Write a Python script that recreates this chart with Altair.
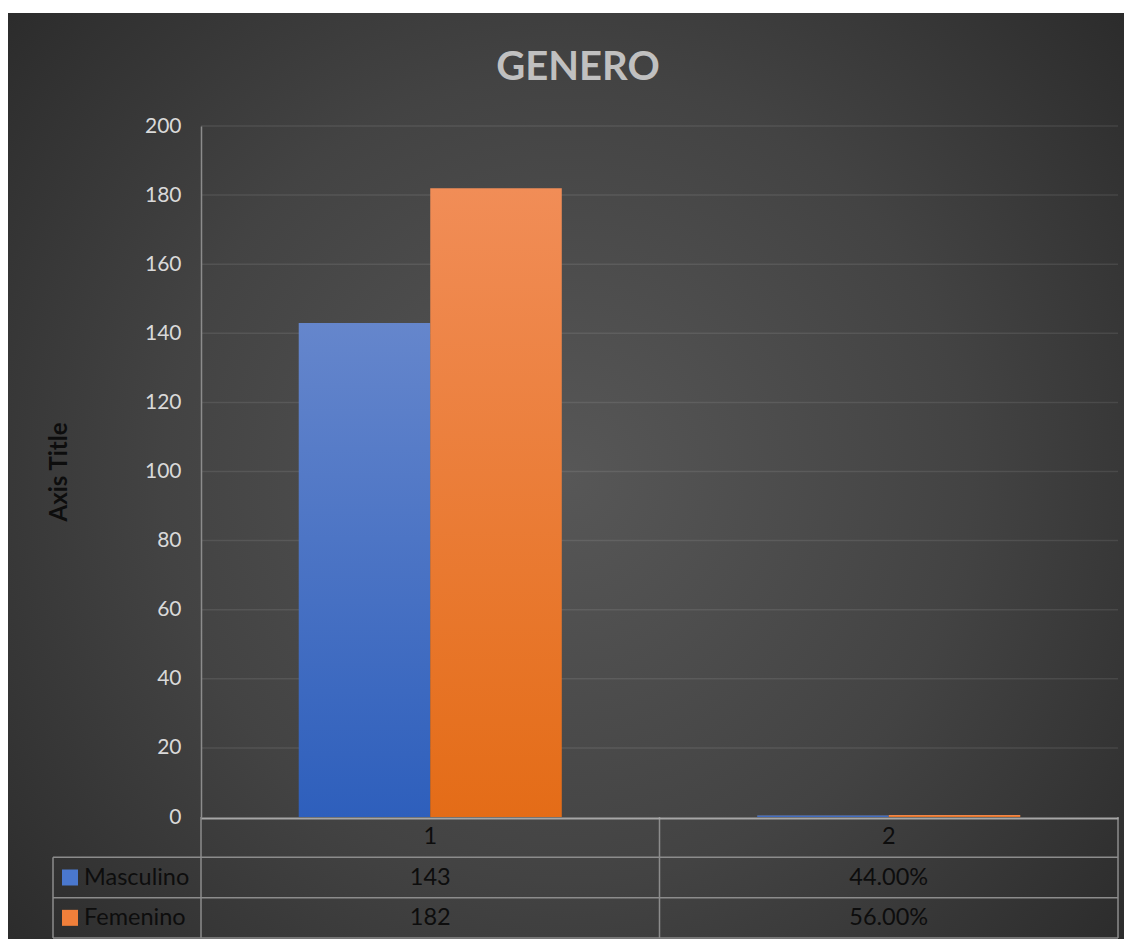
import altair as alt
import pandas as pd

# ---- data ----
chart_title = "GENERO"
categories = ["1", "2"]
series = ["Masculino", "Femenino"]
masculino = [143, 0.44]
femenino = [182, 0.56]
series_colors = ["#4a78cf", "#f07f3a"]
y_ticks = [0, 20, 40, 60, 80, 100, 120, 140, 160, 180, 200]
table_rows = ["header", "Masculino", "Femenino"]


def fmt(cat, v):
    return f"{v:.2%}" if cat == "2" else f"{v:g}"


records = []
for name, vals in zip(series, [masculino, femenino]):
    for cat, v in zip(categories, vals):
        records.append({"category": cat, "series": name, "value": v, "label": fmt(cat, v)})
df = pd.DataFrame(records)
legend_df = pd.DataFrame({"series": series})
ticks_df = pd.DataFrame({"tick": y_ticks[1:]})
one = pd.DataFrame({"k": [0]})
title_df = pd.DataFrame({"t": [chart_title]})

W, H = 917, 691
ROW_TOP, ROW_BOTTOM = 691, 812
FONT = "Lato"
TXT = "#0d0d0d"
LINE = "#8c8c8c"
TFS = 23.5

x_enc = alt.X(
    "category:N",
    scale=alt.Scale(domain=categories, paddingInner=0, paddingOuter=0),
    axis=alt.Axis(title=None, labelAngle=0, labelColor=TXT, labelFontSize=TFS, labelFont=FONT,
                  labelPadding=6, ticks=False, domain=True, domainColor="#a6a6a6", offset=1,
                  domainWidth=2, grid=False, zindex=1),
)

y_scale = alt.Scale(domain=[0, 200], nice=False, zero=True)

y_bar = alt.Y(
    "value:Q",
    scale=y_scale,
    axis=alt.Axis(values=y_ticks, grid=False, domain=True, domainColor=LINE, domainWidth=1.5,
                  ticks=False, zindex=1,
                  labelColor="#d9d9d9", labelFontSize=21, labelFont=FONT, labelPadding=20,
                  title="Axis Title", titleFont=FONT, titleFontSize=24, titleFontWeight="bold",
                  titleColor=TXT, titleX=-142, titleY=H / 2, titleAngle=270,
                  titleAlign="center", titleBaseline="middle"),
)

xoff = alt.XOffset("series:N", scale=alt.Scale(domain=series, paddingInner=0, paddingOuter=0.743))

bg = alt.Chart(one).mark_rect(
    fill=alt.RadialGradient(
        gradient="radial", x1=0.5, y1=0.5, r1=0, x2=0.5, y2=0.5, r2=0.72,
        stops=[alt.GradientStop(offset=0, color="#575757"),
               alt.GradientStop(offset=0.5, color="#434343"),
               alt.GradientStop(offset=1, color="#262626")],
    )
).encode(x=alt.value(-194), x2=alt.value(W + 8), y=alt.value(-113), y2=alt.value(ROW_BOTTOM + 3))

title = alt.Chart(title_df).mark_text(font=FONT, fontSize=40, fontWeight="bold", color="#c0c0c0",
                                      align="center", baseline="middle").encode(
    x=alt.value(377), y=alt.value(-58), text="t:N")

grid = alt.Chart(ticks_df).mark_rule(color="white", opacity=0.09, strokeWidth=1.5).encode(
    y=alt.Y("tick:Q", scale=y_scale, axis=None),
    x=alt.value(0), x2=alt.value(W),
)


def grad(top, bottom):
    return alt.LinearGradient(gradient="linear", x1=0, y1=0, x2=0, y2=1,
                              stops=[alt.GradientStop(offset=0, color=top),
                                     alt.GradientStop(offset=1, color=bottom)])


bars_m = alt.Chart(df).transform_filter(alt.datum.series == "Masculino").mark_bar(
    fill=grad("#6586cc", "#2e5fbc"), strokeWidth=0
).encode(x=x_enc, xOffset=xoff, y=y_bar)

bars_f = alt.Chart(df).transform_filter(alt.datum.series == "Femenino").mark_bar(
    fill=grad("#f18d57", "#e46c17"), strokeWidth=0
).encode(x=x_enc, xOffset=xoff, y=alt.Y("value:Q", scale=y_scale, axis=None))

row_scale = alt.Scale(domain=table_rows, range=[ROW_TOP, ROW_BOTTOM], paddingInner=0, paddingOuter=0)

cells = alt.Chart(df).mark_text(font=FONT, fontSize=TFS, color=TXT, baseline="middle").encode(
    x=alt.X("category:N"),
    y=alt.Y("series:N", scale=row_scale, axis=None),
    text="label:N",
)

legend_sq = alt.Chart(legend_df).mark_square(size=256, opacity=1, filled=True).encode(
    x=alt.value(-131),
    y=alt.Y("series:N", scale=row_scale, axis=None),
    color=alt.Color("series:N", scale=alt.Scale(domain=series, range=series_colors), legend=None),
)

legend_txt = alt.Chart(legend_df).mark_text(font=FONT, fontSize=TFS, color=TXT, align="left",
                                            baseline="middle").encode(
    x=alt.value(-117),
    y=alt.Y("series:N", scale=row_scale, axis=None),
    text="series:N",
)


def hline(y, x0, x1):
    return alt.Chart(one).mark_rule(color=LINE, strokeWidth=1.5).encode(
        x=alt.value(x0), x2=alt.value(x1), y=alt.value(y))


def vline(x, y0, y1):
    return alt.Chart(one).mark_rule(color=LINE, strokeWidth=1.5).encode(
        x=alt.value(x), y=alt.value(y0), y2=alt.value(y1))


row1 = ROW_TOP + (ROW_BOTTOM - ROW_TOP) / 3
row2 = ROW_TOP + 2 * (ROW_BOTTOM - ROW_TOP) / 3
lines = [
    hline(row1, -148, W), hline(row2, -148, W), hline(ROW_BOTTOM, -148, W),
    vline(-148, row1, ROW_BOTTOM), vline(0, ROW_TOP, ROW_BOTTOM),
    vline(W / 2, ROW_TOP, ROW_BOTTOM), vline(W, ROW_TOP, ROW_BOTTOM),
]

chart = alt.layer(bg, title, grid, *lines, bars_m, bars_f, cells, legend_sq, legend_txt).resolve_scale(
    y="independent"
).properties(
    width=W, height=H,
    autosize=alt.AutoSizeParams(type="none"),
    padding={"left": 193, "top": 118, "right": 6, "bottom": 122},
    background="white",
).configure_view(stroke=None, fill=None).configure(font=FONT)

chart.save("out.html", embed_options={"renderer": "svg", "actions": False})
